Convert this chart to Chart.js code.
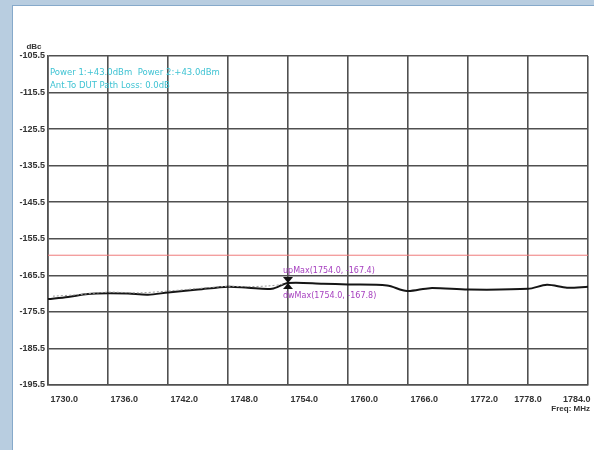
<!DOCTYPE html>
<html>
<head>
<meta charset="utf-8">
<script src="https://cdn.jsdelivr.net/npm/chart.js@4/dist/chart.umd.min.js"></script>
<style>
  body { margin: 0; width: 594px; height: 450px; overflow: hidden; background: #b8cde0; position: relative; }
  #panel { position: absolute; left: 12px; top: 5px; right: 0; bottom: 0; background: #fff; border-left: 1px solid #86a9ca; border-top: 1px solid #86a9ca; }
  #chart { position: absolute; left: 0; top: 0; }
</style>
</head>
<body>
<div id="panel"></div>
<canvas id="chart" width="594" height="450"></canvas>
<script>
// frequency axis (MHz) and level axis (dBc)
const freqTicks = [1730, 1736, 1742, 1748, 1754, 1760, 1766, 1772, 1778, 1784];
const levelTicks = [-195.5, -185.5, -175.5, -165.5, -155.5, -145.5, -135.5, -125.5, -115.5, -105.5];

// main trace
const traceFreq = [1730, 1732, 1734, 1736, 1738, 1740, 1742, 1745, 1748, 1750, 1752.4, 1754, 1757.5, 1760, 1763.9, 1765.9, 1768.2, 1772, 1778, 1779.9, 1781.9, 1784];
const traceLevel = [-172.0, -171.4, -170.6, -170.4, -170.5, -170.8, -170.2, -169.4, -168.6, -168.9, -169.2, -167.6, -167.8, -168.0, -168.3, -169.8, -169.0, -169.4, -169.2, -168.1, -168.9, -168.6];

// faint dotted trace
const dwFreq = [1730.5, 1733, 1736, 1739, 1742, 1745, 1748, 1750, 1752, 1753.5];
const dwLevel = [-171.2, -170.8, -170.1, -170.3, -169.8, -169.1, -168.5, -168.6, -168.4, -168.0];

// limit line
const limitFreq = [1730, 1784];
const limitLevel = [-160, -160];

// marker
const markerFreq = 1754.0;
const markerLevel = -167.6;
const upMaxText = 'upMax(1754.0, -167.4)';
const dwMaxText = 'dwMax(1754.0, -167.8)';
const infoLines = ['Power 1:+43.0dBm  Power 2:+43.0dBm', 'Ant.To DUT Path Loss: 0.0dB'];

const pts = (xs, ys) => xs.map((x, i) => ({x: x, y: ys[i]}));

// x labels sit just right of their grid line, the last two are pulled in
function freqLabel(v, i, n) {
  const s = v.toFixed(1);
  if (i === n - 1) return s + ' '.repeat(9);
  if (i === n - 2) return s;
  return ' '.repeat(13) + s;
}

// hourglass marker symbol
const markImg = document.createElement('canvas');
markImg.width = 10; markImg.height = 12;
(function () {
  const c = markImg.getContext('2d');
  c.fillStyle = '#111';
  c.beginPath(); c.moveTo(0, 0); c.lineTo(10, 0); c.lineTo(5, 6); c.closePath(); c.fill();
  c.beginPath(); c.moveTo(5, 6); c.lineTo(10, 12); c.lineTo(0, 12); c.closePath(); c.fill();
})();

const textPlugin = {
  id: 'texts',
  afterDraw(chart) {
    const ctx = chart.ctx;
    const xs = chart.scales.x, ys = chart.scales.y;
    ctx.save();
    ctx.textBaseline = 'middle';
    ctx.font = 'bold 8px "Liberation Sans"';
    ctx.fillStyle = '#333';
    ctx.textAlign = 'center';
    ctx.fillText('dBc', 34, 47);
    ctx.textAlign = 'right';
    ctx.fillText('Freq: MHz', 590, 409);

    ctx.textAlign = 'left';
    ctx.font = '8.5px "DejaVu Sans"';
    ctx.fillStyle = '#3fc3d3';
    ctx.fillText(infoLines[0], 50, 73);
    ctx.fillText(infoLines[1], 50, 86);

    const mx = xs.getPixelForValue(markerFreq), my = ys.getPixelForValue(markerLevel);
    ctx.font = '8px "DejaVu Sans"';
    ctx.fillStyle = '#a63fbf';
    ctx.fillText(upMaxText, mx - 5, my - 12);
    ctx.fillText(dwMaxText, mx - 5, my + 13);
    ctx.restore();
  }
};

new Chart(document.getElementById('chart'), {
  type: 'line',
  data: {
    datasets: [
      { data: pts(limitFreq, limitLevel), borderColor: '#ef7b7b', borderWidth: 1, pointRadius: 0 },
      { data: pts(dwFreq, dwLevel), borderColor: '#9a9a9a', borderWidth: 1, borderDash: [2, 2], pointRadius: 0, tension: 0.3 },
      { data: pts(traceFreq, traceLevel), borderColor: '#151515', borderWidth: 2, pointRadius: 0, tension: 0.3 },
      { data: [{x: markerFreq, y: markerLevel}], showLine: false, pointStyle: markImg, pointRadius: 5 }
    ]
  },
  options: {
    responsive: false,
    animation: false,
    layout: { padding: { top: 56, right: 6, left: 0, bottom: 0 } },
    plugins: { legend: { display: false }, tooltip: { enabled: false } },
    scales: {
      x: {
        type: 'linear', min: freqTicks[0], max: freqTicks[freqTicks.length - 1],
        afterBuildTicks: s => { s.ticks = freqTicks.map(v => ({value: v})); },
        afterFit: s => { s.height = 65; s.paddingLeft = 0; s.paddingRight = 0; },
        grid: { color: '#505050', lineWidth: 1.6, drawTicks: false },
        border: { color: '#505050', width: 1.6 },
        ticks: {
          autoSkip: false, maxRotation: 0, padding: 9,
          color: '#333', font: { family: 'Liberation Sans', size: 9, weight: 'bold' },
          callback: (v, i, t) => freqLabel(v, i, t.length)
        }
      },
      y: {
        min: levelTicks[0], max: levelTicks[levelTicks.length - 1],
        afterBuildTicks: s => { s.ticks = levelTicks.map(v => ({value: v})); },
        afterFit: s => { s.width = 48; s.paddingTop = 0; s.paddingBottom = 0; },
        grid: { color: '#505050', lineWidth: 1.6, drawTicks: false },
        border: { color: '#505050', width: 1.6 },
        ticks: {
          autoSkip: false, padding: 3,
          color: '#333', font: { family: 'Liberation Sans', size: 9, weight: 'bold' },
          callback: v => v.toFixed(1)
        }
      }
    }
  },
  plugins: [textPlugin]
});
</script>
</body>
</html>
